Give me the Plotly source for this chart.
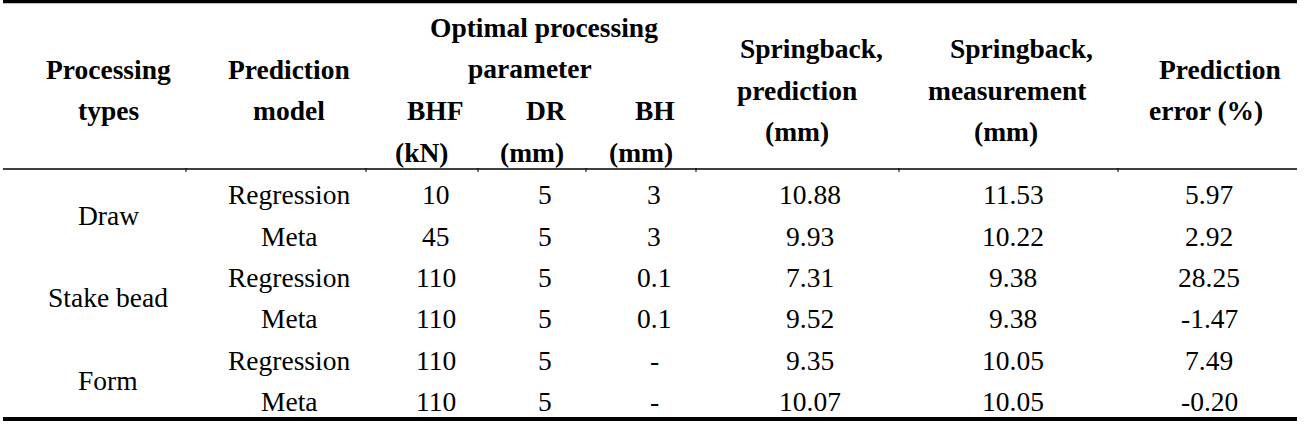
import plotly.graph_objects as go

# ---- data ----
processing_types = ["Draw", "Stake bead", "Form"]
prediction_models = ["Regression", "Meta", "Regression", "Meta", "Regression", "Meta"]
bhf_kn = ["10", "45", "110", "110", "110", "110"]
dr_mm = ["5", "5", "5", "5", "5", "5"]
bh_mm = ["3", "3", "0.1", "0.1", "-", "-"]
springback_pred = ["10.88", "9.93", "7.31", "9.52", "9.35", "10.07"]
springback_meas = ["11.53", "10.22", "9.38", "9.38", "10.05", "10.05"]
pred_error = ["5.97", "2.92", "28.25", "-1.47", "7.49", "-0.20"]

# header lines: (text, x, y)
header_lines = [
    ("Optimal processing", 544, 27),
    ("parameter", 530, 68),
    ("Processing", 108, 69), ("types", 108, 110),
    ("Prediction", 289, 69), ("model", 289, 110),
    ("BHF", 435, 110), ("(kN)", 421, 152),
    ("DR", 546, 110), ("(mm)", 532, 152),
    ("BH", 655, 110), ("(mm)", 641, 152),
    ("Springback,", 811, 48), ("prediction", 797, 90), ("(mm)", 797, 131),
    ("Springback,", 1021, 48), ("measurement", 1007, 90), ("(mm)", 1006, 131),
    ("Prediction", 1220, 69), ("error (%)", 1206, 110),
]

# ---- layout constants ----
W, H = 1306, 434
FONT = "Liberation Serif"
FS = 27.5
row_y = [194, 236, 277, 318, 360, 401]
group_y = [215, 297, 380]
col_x = {"type": 108, "model": 289, "bhf": 436, "dr": 545, "bh": 654,
         "pred": 810, "meas": 1013, "err": 1209}
x0_line, x1_line = 3, 1297
tick_x = [186, 366, 478, 586, 696, 899, 1118]

annotations = []


def add_text(t, x, y, bold=False):
    annotations.append(dict(
        text=f"<b>{t}</b>" if bold else t, x=x, y=y, xref="x", yref="y",
        showarrow=False, xanchor="center", yanchor="middle",
        font=dict(family=FONT, size=FS, color="black"),
    ))


for t, x, y in header_lines:
    add_text(t, x, y, bold=True)

for t, y in zip(processing_types, group_y):
    add_text(t, col_x["type"], y)

columns = [("model", prediction_models), ("bhf", bhf_kn), ("dr", dr_mm),
           ("bh", bh_mm), ("pred", springback_pred), ("meas", springback_meas),
           ("err", pred_error)]
for key, vals in columns:
    for v, y in zip(vals, row_y):
        add_text(v, col_x[key], y)

shapes = [
    dict(type="line", x0=x0_line, x1=x1_line, y0=1.5, y1=1.5,
         xref="x", yref="y", line=dict(color="black", width=3.5)),
    dict(type="line", x0=x0_line, x1=x1_line, y0=169, y1=169,
         xref="x", yref="y", line=dict(color="black", width=1.5)),
    dict(type="line", x0=x0_line, x1=x1_line, y0=419, y1=419,
         xref="x", yref="y", line=dict(color="black", width=4)),
]
for tx in tick_x:
    shapes.append(dict(type="line", x0=tx, x1=tx, y0=168, y1=172,
                       xref="x", yref="y", line=dict(color="black", width=1)))

fig = go.Figure()
fig.add_trace(go.Scatter(x=[0], y=[0], mode="markers",
                         marker=dict(opacity=0), hoverinfo="skip",
                         showlegend=False))
fig.update_layout(
    width=W, height=H, autosize=False,
    margin=dict(l=0, r=0, t=0, b=0),
    paper_bgcolor="white", plot_bgcolor="white",
    font=dict(family=FONT, size=FS, color="black"),
    xaxis=dict(range=[0, W], visible=False, fixedrange=True),
    yaxis=dict(range=[H, 0], visible=False, fixedrange=True),
    annotations=annotations, shapes=shapes, showlegend=False,
)
fig.write_html("out.html", config={"displayModeBar": False},
               post_script="document.body.style.margin='0';document.body.style.overflow='hidden';")
